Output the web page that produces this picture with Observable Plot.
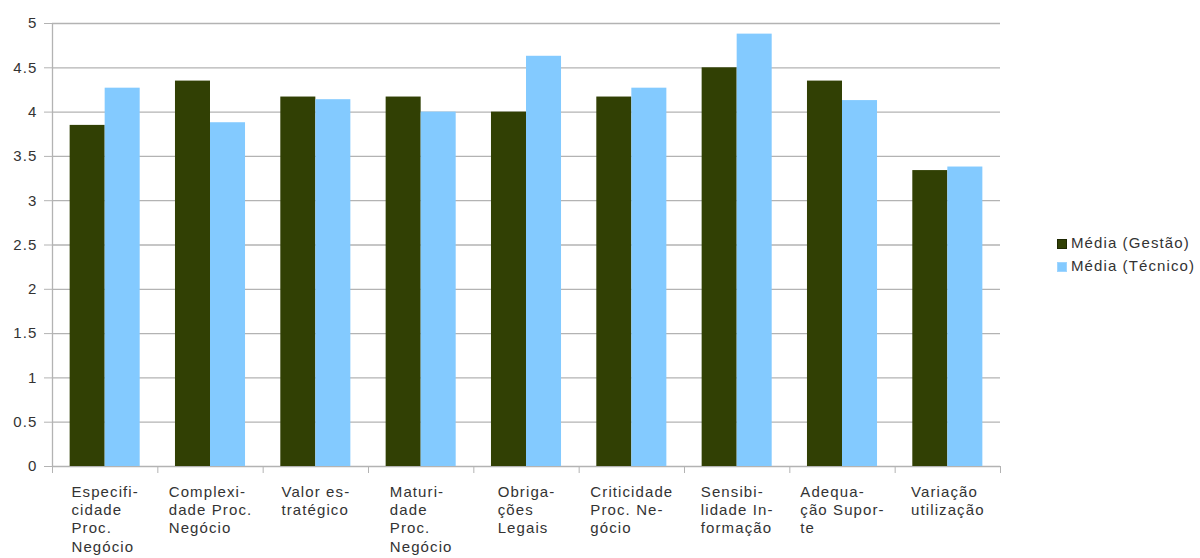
<!DOCTYPE html>
<html>
<head>
<meta charset="utf-8">
<script src="https://cdn.jsdelivr.net/npm/d3@7"></script>
<script src="https://cdn.jsdelivr.net/npm/@observablehq/plot@0.6"></script>
<style>
  html, body { margin: 0; padding: 0; background: #fff; }
  #chart { position: relative; width: 1200px; height: 558px; font-family: "Liberation Sans", Arial, sans-serif; }
  #chart svg text { letter-spacing: 1.1px; }
  #legend { position: absolute; left: 1057px; top: 231px; font-size: 15px; color: #333; letter-spacing: 1.1px; line-height: 23px; }
  #legend .row { display: flex; align-items: center; white-space: nowrap; }
  #legend .sw { width: 10px; height: 10px; margin-right: 4px; margin-top: 2px; box-sizing: border-box; }
</style>
</head>
<body>
<div id="chart"><div id="legend"></div></div>
<script>
// ---- data ----
const categories = [
  "Especificidade Proc. Negócio",
  "Complexidade Proc. Negócio",
  "Valor estratégico",
  "Maturidade Proc. Negócio",
  "Obrigações Legais",
  "Criticidade Proc. Negócio",
  "Sensibilidade Informação",
  "Adequação Suporte",
  "Variação utilização"
];
const tickLabels = [
  "Especifi-\ncidade\nProc.\nNegócio",
  "Complexi-\ndade Proc.\nNegócio",
  "Valor es-\ntratégico",
  "Maturi-\ndade\nProc.\nNegócio",
  "Obriga-\nções\nLegais",
  "Criticidade\nProc. Ne-\ngócio",
  "Sensibi-\nlidade In-\nformação",
  "Adequa-\nção Supor-\nte",
  "Variação\nutilização"
];
const seriesNames = ["Média (Gestão)", "Média (Técnico)"];
const gestao  = [3.85, 4.35, 4.17, 4.17, 4.00, 4.17, 4.50, 4.35, 3.34];
const tecnico = [4.27, 3.88, 4.14, 4.00, 4.63, 4.27, 4.88, 4.13, 3.38];
const yTicks = [0, 0.5, 1, 1.5, 2, 2.5, 3, 3.5, 4, 4.5, 5];
const colors = ["#314004", "#83caff"];

// ---- build table ----
const rows = categories.flatMap((c, i) => [
  {i, cat: c, serie: seriesNames[0], k: 0, value: gestao[i]},
  {i, cat: c, serie: seriesNames[1], k: 1, value: tecnico[i]}
]);
const labelRows = tickLabels.map((t, i) => ({i, t}));

const groupPad = 0.1675;           // gap on each side of a group, in category units
const half = (1 - 2 * groupPad) / 2;
const grid = "#b3b3b3";

const plot = Plot.plot({
  width: 1200,
  height: 558,
  marginLeft: 52,
  marginRight: 200,
  marginTop: 23,
  marginBottom: 92,
  style: {fontFamily: "'Liberation Sans', Arial, sans-serif", fontSize: "15px", color: "#333", background: "#fff"},
  x: {domain: [0, categories.length], axis: null},
  y: {domain: [0, 5], axis: null},
  color: {domain: seriesNames, range: colors},
  marks: [
    Plot.ruleY(yTicks, {stroke: grid, strokeWidth: 1.3}),
    Plot.ruleX([0], {stroke: grid, strokeWidth: 1.3}),
    Plot.axisY({ticks: yTicks, tickSize: 8, tickPadding: 7, tickFormat: d => String(d), stroke: grid, fill: "#333", fontSize: 15, label: null}),
    Plot.axisX({ticks: d3.range(categories.length + 1), tickSize: 7, tickFormat: () => "", stroke: grid, label: null}),
    Plot.rectY(rows, {
      x1: d => d.i + groupPad + d.k * half,
      x2: d => d.i + groupPad + (d.k + 1) * half,
      y: "value",
      fill: "serie"
    }),
    Plot.text(labelRows, {
      x: d => d.i + 0.5,
      y: () => 0,
      text: "t",
      textAnchor: "start",
      lineAnchor: "top",
      lineHeight: 1.23,
      dy: 17,
      fill: "#333",
      fontSize: 15,
      className: "catlabels"
    })
  ]
});

const chart = document.getElementById("chart");
chart.insertBefore(plot, chart.firstChild);
plot.style.position = "absolute";
plot.style.left = "0";
plot.style.top = "0";

// centre each wrapped label block in its category (lines stay left aligned)
const labelTexts = Array.from(plot.querySelectorAll("text")).filter(t => t.querySelectorAll("tspan").length > 1);
labelTexts.forEach(t => {
  const w = t.getBBox().width;
  const g = document.createElementNS("http://www.w3.org/2000/svg", "g");
  g.setAttribute("transform", `translate(${-w / 2},0)`);
  t.parentNode.insertBefore(g, t);
  g.appendChild(t);
});

// legend
const legend = document.getElementById("legend");
const borders = ["#1e2802", "#9fd5ff"];
seriesNames.forEach((s, j) => {
  const row = document.createElement("div");
  row.className = "row";
  const sw = document.createElement("span");
  sw.className = "sw";
  sw.style.background = colors[j];
  sw.style.border = `1px solid ${borders[j]}`;
  const tx = document.createElement("span");
  tx.textContent = s;
  row.appendChild(sw);
  row.appendChild(tx);
  legend.appendChild(row);
});
</script>
</body>
</html>
